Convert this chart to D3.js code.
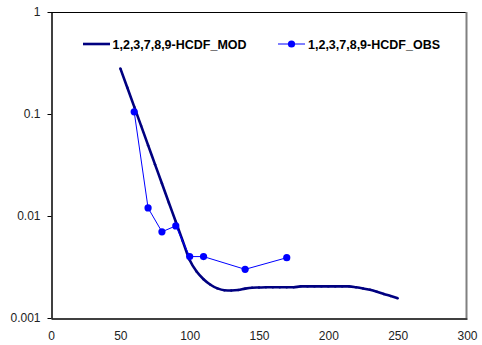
<!DOCTYPE html>
<html><head><meta charset="utf-8">
<script src="https://cdn.jsdelivr.net/npm/d3@7"></script>
<style>body{margin:0;background:#fff}svg{display:block;font-family:"Liberation Sans",Arial,sans-serif}</style>
</head><body>
<svg id="c" width="482" height="345"></svg>
<script>
const modX = [50,55,60,65,70,75,80,85,90,95,100,105,110,115,120,125,130,135,140,145,150,155,160,165,170,175,180,185,190,195,200,205,210,215,220,225,230,235,240,245,250];
const modY = [0.28,0.182,0.118,0.0764,0.0495,0.0321,0.0208,0.0135,0.00877,0.00569,0.0037,0.00285,0.0024,0.00212,0.00195,0.00187,0.00186,0.00188,0.00194,0.00198,0.00199,0.002,0.002,0.002,0.002,0.002,0.00204,0.00204,0.00204,0.00204,0.00204,0.00204,0.00204,0.00204,0.002,0.00195,0.00189,0.00181,0.00172,0.00164,0.00156];
const obsX = [60,70,80,90,100,110,140,170];
const obsY = [0.105,0.012,0.007,0.008,0.004,0.004,0.003,0.0039];
const xTicks = [0,50,100,150,200,250,300];
const yTicks = [0.001,0.01,0.1,1];
const yTickLabels = ["0.001","0.01","0.1","1"];
const seriesNames = ["1,2,3,7,8,9-HCDF_MOD","1,2,3,7,8,9-HCDF_OBS"];

const svg = d3.select("#c");
const L=51, R=467, T=12, B=318;
const x = d3.scaleLinear().domain([0,300]).range([L,R]);
const y = d3.scaleLog().domain([0.001,1]).range([B,T]);

// frame
svg.append("line").attr("x1",L).attr("x2",R).attr("y1",T+0.5).attr("y2",T+0.5).attr("stroke","#000").attr("stroke-width",1);
svg.append("line").attr("x1",R-0.5).attr("x2",R-0.5).attr("y1",T).attr("y2",B).attr("stroke","#808080").attr("stroke-width",2);

// axes
const yAxis = d3.axisLeft(y).tickValues(yTicks).tickFormat((d,i)=>yTickLabels[i]).tickSize(4).tickSizeOuter(0);
const gy = svg.append("g").attr("transform",`translate(${L+0.5},0)`).call(yAxis);
gy.select(".domain").attr("stroke","#000").attr("stroke-width",1.5);
gy.selectAll("text").attr("font-size",12).attr("fill","#222").attr("x",-11);
gy.selectAll(".tick line").attr("stroke","#000");

const xAxis = d3.axisBottom(x).tickValues(xTicks).tickSize(0).tickSizeOuter(0).tickPadding(13);
const gx = svg.append("g").attr("transform",`translate(0,${B+0.5})`).call(xAxis);
gx.select(".domain").attr("stroke","#000").attr("stroke-width",1.5);
gx.selectAll("text").attr("font-size",12).attr("fill","#222");

// MOD line
const line = d3.line().x(d=>x(d[0])).y(d=>y(d[1])).curve(d3.curveMonotoneX);
const modData = modX.map((v,i)=>[v,modY[i]]);
svg.append("path").attr("d",line(modData)).attr("fill","none").attr("stroke","#000080").attr("stroke-width",2.6);
svg.selectAll(".mm").data(modData).enter().append("circle").attr("cx",d=>x(d[0])).attr("cy",d=>y(d[1])).attr("r",1.2).attr("fill","#000080");

// OBS
const obsData = obsX.map((v,i)=>[v,obsY[i]]);
const line2 = d3.line().x(d=>x(d[0])).y(d=>y(d[1]));
svg.append("path").attr("d",line2(obsData)).attr("fill","none").attr("stroke","#0000ff").attr("stroke-width",1);
svg.selectAll(".om").data(obsData).enter().append("circle").attr("cx",d=>x(d[0])).attr("cy",d=>y(d[1])).attr("r",3.6).attr("fill","#0000ff");

// legend
const lg = svg.append("g");
lg.append("line").attr("x1",83).attr("x2",110).attr("y1",44).attr("y2",44).attr("stroke","#000080").attr("stroke-width",2.6);
lg.append("text").attr("x",112.5).attr("y",48.5).attr("font-size",12.5).attr("font-weight","bold").attr("fill","#000").text(seriesNames[0]);
lg.append("line").attr("x1",278).attr("x2",305).attr("y1",44).attr("y2",44).attr("stroke","#0000ff").attr("stroke-width",1);
lg.append("circle").attr("cx",291.5).attr("cy",44).attr("r",3.6).attr("fill","#0000ff");
lg.append("text").attr("x",308).attr("y",48.5).attr("font-size",12.5).attr("font-weight","bold").attr("fill","#000").text(seriesNames[1]);
</script>
</body></html>
